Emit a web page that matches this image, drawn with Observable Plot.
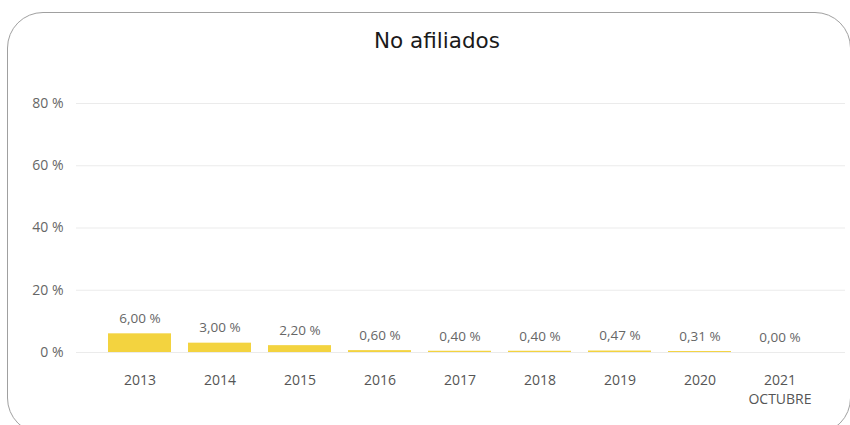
<!DOCTYPE html>
<html>
<head>
<meta charset="utf-8">
<script src="https://cdn.jsdelivr.net/npm/d3@7"></script>
<script src="https://cdn.jsdelivr.net/npm/@observablehq/plot@0.6"></script>
<style>
  html, body { margin: 0; padding: 0; background: #fff; overflow: hidden; }
  #wrap { position: relative; width: 850px; height: 425px; overflow: hidden; }
  #card { position: absolute; left: 7px; top: 12px; width: 844px; height: 422px;
          border: 1.5px solid #a0a0a0; border-radius: 36px; box-sizing: border-box; }
  #title { position: absolute; left: 0; width: 874px; top: 30px; line-height: 22px; text-align: center;
           font-family: "DejaVu Sans", sans-serif; font-size: 21.5px; color: #1a1a1a; }
  #chart { position: absolute; left: 0; top: 0; }
</style>
</head>
<body>
<div id="wrap">
  <div id="card"></div>
  <div id="title">No afiliados</div>
  <div id="chart"></div>
</div>
<script>
const years = ["2013", "2014", "2015", "2016", "2017", "2018", "2019", "2020", "2021\nOCTUBRE"];
const values = [6.00, 3.00, 2.20, 0.60, 0.40, 0.40, 0.47, 0.31, 0.00];
const yTicks = [0, 20, 40, 60, 80];

const data = years.map((y, i) => ({year: y, value: values[i]}));
const fmt = v => v.toFixed(2).replace(".", ",") + " %";

const plot = Plot.plot({
  width: 850,
  height: 425,
  marginLeft: 76,
  marginRight: 5,
  marginTop: 103,
  marginBottom: 73,
  style: {fontFamily: "Open Sans, sans-serif", background: "transparent"},
  x: {domain: years, paddingInner: 0.21, paddingOuter: 0.105, insetLeft: 24, insetRight: 25, label: null},
  y: {domain: [0, 80], label: null},
  marks: [
    Plot.ruleY(yTicks, {stroke: "#ebebeb", strokeWidth: 1}),
    Plot.barY(data, {x: "year", y: "value", fill: "#f3d33f"}),
    Plot.text(data, {x: "year", y: "value", text: d => fmt(d.value), dy: -15,
      fill: "#666", fontSize: 13.5}),
    Plot.axisY({ticks: yTicks, tickFormat: d => d + " %", tickSize: 0, tickPadding: 13,
      fontSize: 14, color: "#666", label: null}),
    Plot.axisX({tickSize: 0, tickPadding: 20, fontSize: 14, lineHeight: 1.3, color: "#555", label: null})
  ]
});
document.getElementById("chart").appendChild(plot);
</script>
</body>
</html>
